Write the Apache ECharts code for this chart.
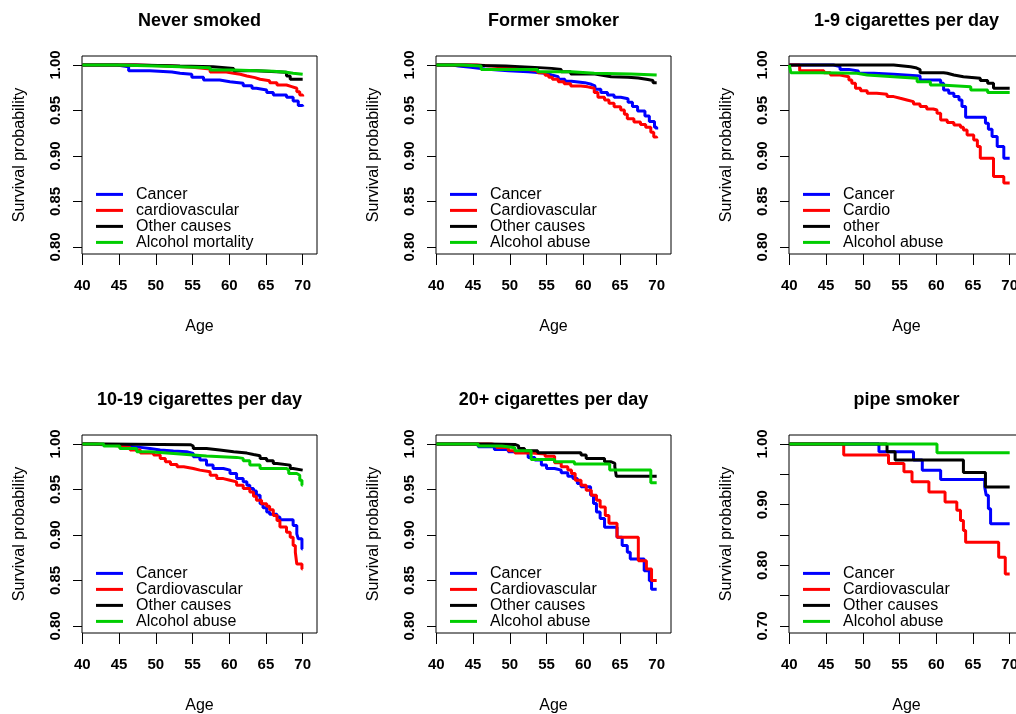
<!DOCTYPE html>
<html><head><meta charset="utf-8">
<script src="https://cdn.jsdelivr.net/npm/echarts@6/dist/echarts.min.js"></script>
<style>html,body{margin:0;padding:0;background:#fff}#c{width:1016px;height:714px}</style>
</head><body><div id="c"></div>
<script>
// ---------- text ----------
const titles = ['Never smoked', 'Former smoker', '1-9 cigarettes per day',
                '10-19 cigarettes per day', '20+ cigarettes per day', 'pipe smoker'];
const legendLabels = [
  ['Cancer', 'cardiovascular', 'Other causes', 'Alcohol mortality'],
  ['Cancer', 'Cardiovascular', 'Other causes', 'Alcohol abuse'],
  ['Cancer', 'Cardio', 'other', 'Alcohol abuse'],
  ['Cancer', 'Cardiovascular', 'Other causes', 'Alcohol abuse'],
  ['Cancer', 'Cardiovascular', 'Other causes', 'Alcohol abuse'],
  ['Cancer', 'Cardiovascular', 'Other causes', 'Alcohol abuse']
];
const xTitle = 'Age';
const yTitle = 'Survival probability';
const xTicks = [40, 45, 50, 55, 60, 65, 70];
const yTicks = [0.80, 0.85, 0.90, 0.95, 1.00];
const yTicksPipe = [0.70, 0.75, 0.80, 0.85, 0.90, 0.95, 1.00];
const yLabelsPipe = [0.70, 0.80, 0.90, 1.00];

// ---------- data: [age, survival] at each step ----------
// Never smoked
const never_cancer = [[40,1],[44.7,0.9982],[46.3,0.9938],[49.2,0.9923],[52.2,0.9909],[53.3,0.9898],[54.9,0.9865],[56.5,0.9835],[58.7,0.9817],[60.1,0.9799],[61.9,0.9773],[63.1,0.9744],[63.7,0.9726],[65.1,0.9697],[66.0,0.9671],[67.8,0.9645],[68.7,0.9605],[69.4,0.9554],[70,0.9543]];
const never_cardio = [[40,1],[47,0.999],[52,0.9975],[55,0.9955],[57.4,0.9922],[59.6,0.9909],[60.6,0.9898],[61.5,0.988],[62.4,0.9861],[63.5,0.9843],[64.2,0.9828],[65.5,0.9806],[66.5,0.978],[67.8,0.9762],[68.5,0.9744],[69.2,0.9707],[69.6,0.9671],[70,0.9653]];
const never_other = [[40,1],[47.4,0.9989],[53.3,0.9982],[57.8,0.9963],[60.6,0.9938],[63.7,0.992],[67.8,0.9879],[68.3,0.9843],[70,0.9843]];
const never_alcohol = [[40,1],[44.7,0.9989],[50.1,0.9971],[57.4,0.9945],[60.6,0.9931],[66,0.992],[67.8,0.9909],[68.7,0.9898],[70,0.9898]];
// Former smoker
const former_cancer = [[40,1],[42.2,0.999],[43,0.9974],[44.7,0.9956],[46.6,0.9945],[48.4,0.9938],[49.8,0.9927],[52.5,0.992],[53.4,0.9909],[54.8,0.989],[55.7,0.9872],[56.6,0.9843],[57.5,0.9821],[58.4,0.9806],[60.2,0.9788],[61.1,0.977],[61.6,0.9733],[62.4,0.9697],[63.3,0.967],[64.2,0.9645],[65.1,0.963],[66.1,0.959],[66.7,0.9543],[67.4,0.9495],[68.4,0.944],[69.0,0.938],[69.7,0.9316],[70,0.929]];
const former_cardio = [[40,1],[45.5,0.9985],[48,0.997],[50,0.995],[52.5,0.9938],[53.8,0.9916],[54.8,0.9887],[55.3,0.9865],[55.8,0.9843],[56.6,0.9817],[57.4,0.9795],[58.3,0.977],[59.7,0.976],[60.6,0.9744],[61.5,0.9697],[62,0.9645],[62.9,0.9616],[63.5,0.958],[64.2,0.954],[65.1,0.9506],[65.6,0.946],[66,0.941],[66.9,0.9375],[67.8,0.9346],[68.5,0.9316],[69.2,0.926],[69.6,0.921],[70,0.9196]];
const former_other = [[40,1],[44,0.9995],[46.6,0.999],[49.5,0.9985],[50.7,0.9974],[53.4,0.9963],[55.7,0.995],[57,0.9927],[58.3,0.990],[61.6,0.989],[62.4,0.987],[63.8,0.9865],[66.1,0.9857],[67.5,0.984],[68.8,0.983],[69.5,0.9806],[70,0.9806]];
const former_alcohol = [[40,1],[43.4,0.999],[46.1,0.9952],[53.8,0.9927],[58.4,0.9909],[61.5,0.9901],[66.5,0.989],[70,0.989]];
// 1-9 cigarettes per day
const c1_cancer = [[40,1],[46.0,0.9982],[46.9,0.9952],[48.1,0.9934],[49.4,0.9909],[51.5,0.9898],[54.2,0.9879],[57.8,0.9835],[60.6,0.9799],[61.0,0.9726],[61.7,0.9689],[62.4,0.9653],[63.1,0.9616],[63.5,0.9543],[64.0,0.9426],[66.7,0.936],[67.1,0.9294],[67.6,0.9214],[68.3,0.9104],[69.2,0.8976],[70,0.8976]];
const c1_cardio = [[40,1],[41.4,0.9938],[44.7,0.9916],[45.6,0.989],[46.9,0.9872],[48.1,0.9835],[48.5,0.9799],[49.0,0.9744],[49.7,0.9718],[50.6,0.9689],[51.9,0.9678],[53.3,0.9653],[54.2,0.9634],[55.1,0.9616],[56.0,0.9598],[56.9,0.9572],[57.8,0.9543],[58.7,0.9517],[59.6,0.9506],[60.1,0.947],[60.6,0.9397],[61.5,0.9367],[62.4,0.9342],[63.3,0.9316],[63.7,0.9287],[64.2,0.9232],[65.1,0.9177],[65.6,0.9104],[66.0,0.8976],[67.8,0.8775],[69.2,0.8702],[70,0.8702]];
const c1_other = [[40,1],[54.2,0.998],[56.5,0.997],[57.2,0.995],[57.8,0.9916],[61.0,0.991],[61.5,0.989],[62.4,0.987],[63.7,0.9854],[66.0,0.983],[67.0,0.980],[67.8,0.9744],[70,0.9744]];
const c1_alcohol = [[40,1],[40.2,0.9916],[44.2,0.991],[49.2,0.989],[50.6,0.987],[54.2,0.9854],[57.4,0.9817],[59.2,0.978],[60.6,0.9762],[64.7,0.9726],[67,0.9697],[70,0.9697]];
// 10-19 cigarettes per day
const c10_cancer = [[40,1],[41.5,0.999],[43.3,0.9978],[46.0,0.9963],[47.9,0.995],[49.2,0.9934],[50.6,0.9923],[52.4,0.9915],[54.2,0.9897],[55.1,0.986],[56.0,0.9823],[56.9,0.9768],[57.8,0.9731],[59.2,0.9713],[60.1,0.9676],[61.0,0.962],[61.9,0.9584],[62.4,0.9547],[62.8,0.951],[63.3,0.9484],[63.7,0.9436],[64.2,0.9344],[64.6,0.930],[65.1,0.9252],[65.5,0.9227],[66.5,0.9197],[66.9,0.9168],[68.7,0.9105],[69.2,0.9013],[69.4,0.8958],[69.9,0.8847],[70,0.8847]];
const c10_cardio = [[40,1],[42,0.998],[44.7,0.9963],[46.5,0.9934],[47.9,0.990],[49.7,0.9878],[50.6,0.9842],[51.3,0.9805],[52,0.9775],[52.9,0.975],[53.8,0.9731],[55.1,0.9713],[56,0.9694],[57.4,0.9657],[58.3,0.962],[59.2,0.9602],[60.1,0.9584],[61,0.9547],[61.9,0.951],[62.8,0.9473],[63.3,0.9425],[63.7,0.9381],[64.4,0.9344],[65.1,0.9315],[65.5,0.9278],[66,0.9215],[66.5,0.916],[66.9,0.9087],[67.8,0.9031],[68.3,0.8976],[68.7,0.8884],[69,0.881],[69.2,0.8681],[69.9,0.8626],[70,0.8626]];
const c10_other = [[40,1],[42.9,0.9993],[54.7,0.9978],[55.1,0.995],[56.9,0.9934],[58.7,0.9915],[60.6,0.990],[62.4,0.9885],[63.3,0.9872],[64.2,0.9842],[65.1,0.9816],[66,0.9786],[66.5,0.9768],[68.3,0.9731],[68.7,0.9713],[70,0.9713]];
const c10_alcohol = [[40,1],[42.9,0.9978],[45.1,0.995],[47.4,0.9915],[49.2,0.9897],[52.4,0.9886],[54.2,0.9867],[56.9,0.9853],[61,0.9842],[61.9,0.9816],[62.8,0.9768],[64.2,0.9731],[67.8,0.9713],[68.1,0.9676],[69.2,0.9657],[69.6,0.9602],[69.9,0.9547],[70,0.9547]];
// 20+ cigarettes per day
const c20_cancer = [[40,1],[45.7,0.997],[47.9,0.9941],[49.8,0.9915],[52,0.9897],[52.5,0.9853],[53.4,0.9823],[54.3,0.9768],[55,0.9731],[56.1,0.9713],[57,0.9683],[57.9,0.9646],[58.6,0.962],[59.2,0.9565],[59.7,0.953],[61,0.9436],[61.4,0.9345],[61.8,0.9252],[62.3,0.918],[62.9,0.9085],[64.6,0.8976],[65.3,0.8884],[66,0.881],[66.4,0.8737],[68.3,0.8608],[69,0.8497],[69.3,0.8405],[70,0.8405]];
const c20_cardio = [[40,1],[47.5,0.999],[48.2,0.9963],[49.8,0.9926],[50.7,0.990],[53,0.989],[54.8,0.9865],[56.1,0.9794],[57,0.975],[57.9,0.9713],[58.4,0.9676],[58.9,0.9602],[59.7,0.9547],[60.4,0.9492],[61.1,0.9436],[61.8,0.9381],[62.3,0.9307],[63.0,0.9215],[63.5,0.913],[64.6,0.8976],[67.5,0.8718],[68.6,0.8626],[69.3,0.85],[70,0.85]];
const c20_other = [[40,1],[47,0.9995],[50.7,0.998],[51.2,0.9952],[52,0.9926],[53.8,0.9904],[59.7,0.9878],[60.4,0.9842],[62.9,0.9805],[63.8,0.9786],[64.3,0.975],[64.5,0.9646],[70,0.9646]];
const c20_alcohol = [[40,1],[45.7,0.9978],[48.9,0.996],[50.7,0.9926],[52.9,0.9831],[56.1,0.9805],[58.8,0.9779],[63.6,0.9713],[69.2,0.9573],[70,0.9573]];
// pipe smoker
const pipe_cancer = [[40,1],[52.2,0.9873],[56.9,0.9735],[58.1,0.9569],[60.6,0.9414],[66.6,0.9293],[66.8,0.9155],[67.1,0.8934],[67.4,0.8685],[70,0.8685]];
const pipe_cardio = [[40,1],[47.4,0.9818],[53.5,0.968],[55.6,0.9541],[56.7,0.9376],[59.0,0.921],[61.2,0.9044],[62.8,0.8906],[63.3,0.874],[63.7,0.8575],[64.0,0.8381],[68.5,0.8133],[69.4,0.7856],[70,0.7856]];
const pipe_other = [[40,1],[53.3,0.9873],[54.4,0.9735],[63.7,0.953],[66.7,0.9293],[70,0.9293]];
const pipe_alcohol = [[40,1],[60.1,0.9856],[70,0.9856]];

const panelSeries = [
  [never_cancer, never_cardio, never_other, never_alcohol],
  [former_cancer, former_cardio, former_other, former_alcohol],
  [c1_cancer, c1_cardio, c1_other, c1_alcohol],
  [c10_cancer, c10_cardio, c10_other, c10_alcohol],
  [c20_cancer, c20_cardio, c20_other, c20_alcohol],
  [pipe_cancer, pipe_cardio, pipe_other, pipe_alcohol]
];

// ---------- styling / layout ----------
const FONT = '"Liberation Sans", Arial, Helvetica, sans-serif';
const COLORS = ['#0000ff', '#ff0000', '#000000', '#00cd00'];
const LEFTS = [82, 436, 789];
const TOPS = [56, 435];
const W = 235, H = 198;

const option = {
  animation: false,
  backgroundColor: '#ffffff',
  title: [], legend: [], grid: [], xAxis: [], yAxis: [], series: []
};

for (let i = 0; i < 6; i++) {
  const col = i % 3, row = Math.floor(i / 3);
  const left = LEFTS[col], top = TOPS[row];
  const pipe = (i === 5);
  option.title.push({
    text: titles[i], left: left + W / 2, top: top - 44, textAlign: 'center', padding: 0,
    textStyle: { fontSize: 18, fontWeight: 'bold', color: '#000', fontFamily: FONT }
  });
  option.grid.push({
    left: left, top: top, width: W, height: H, show: true,
    borderColor: '#000', borderWidth: 1, backgroundColor: 'transparent',
    containLabel: false, outerBoundsMode: 'none'
  });
  option.xAxis.push({
    type: 'value', gridIndex: i, min: 39.95, max: 71.95,
    axisLine: { show: false },
    axisTick: { show: true, inside: false, length: 11, customValues: xTicks, lineStyle: { color: '#000', width: 1 } },
    axisLabel: { show: true, customValues: xTicks, margin: 24, fontSize: 15, fontWeight: 'bold', color: '#000', fontFamily: FONT,
                 formatter: v => String(Math.round(v)) },
    splitLine: { show: false },
    name: xTitle, nameLocation: 'middle', nameGap: 65,
    nameTextStyle: { fontSize: 16, color: '#000', fontFamily: FONT }
  });
  option.yAxis.push({
    type: 'value', gridIndex: i,
    min: pipe ? 0.6885 : 0.7923, max: pipe ? 1.0148 : 1.0099,
    axisLine: { show: false },
    axisTick: { show: true, inside: false, length: 9, customValues: pipe ? yTicksPipe : yTicks, lineStyle: { color: '#000', width: 1 } },
    axisLabel: { show: true, customValues: pipe ? yLabelsPipe : yTicks, rotate: 90, margin: 19, fontSize: 15, fontWeight: 'bold',
                 color: '#000', fontFamily: FONT, formatter: v => v.toFixed(2) },
    splitLine: { show: false },
    name: yTitle, nameLocation: 'middle', nameGap: 54,
    nameTextStyle: { fontSize: 16, color: '#000', fontFamily: FONT }
  });
  option.legend.push({
    orient: 'vertical', left: left + 14, top: top + 138 - 7.6, padding: 0, itemGap: 0,
    itemWidth: 27, itemHeight: 3, icon: 'rect', selectedMode: false,
    data: legendLabels[i],
    textStyle: { fontSize: 16, lineHeight: 15.2, color: '#000', fontFamily: FONT, padding: [0, 0, 0, 8] }
  });
  panelSeries[i].forEach((d, k) => {
    option.series.push({
      type: 'line', name: legendLabels[i][k], xAxisIndex: i, yAxisIndex: i,
      data: d, step: 'end', showSymbol: false, symbol: 'none',
      color: COLORS[k], itemStyle: { color: COLORS[k] },
      lineStyle: { color: COLORS[k], width: 3 }, emphasis: { disabled: true }, silent: true
    });
  });
}

const chart = echarts.init(document.getElementById('c'), null, { renderer: 'canvas' });
chart.setOption(option);
</script>
</body></html>
